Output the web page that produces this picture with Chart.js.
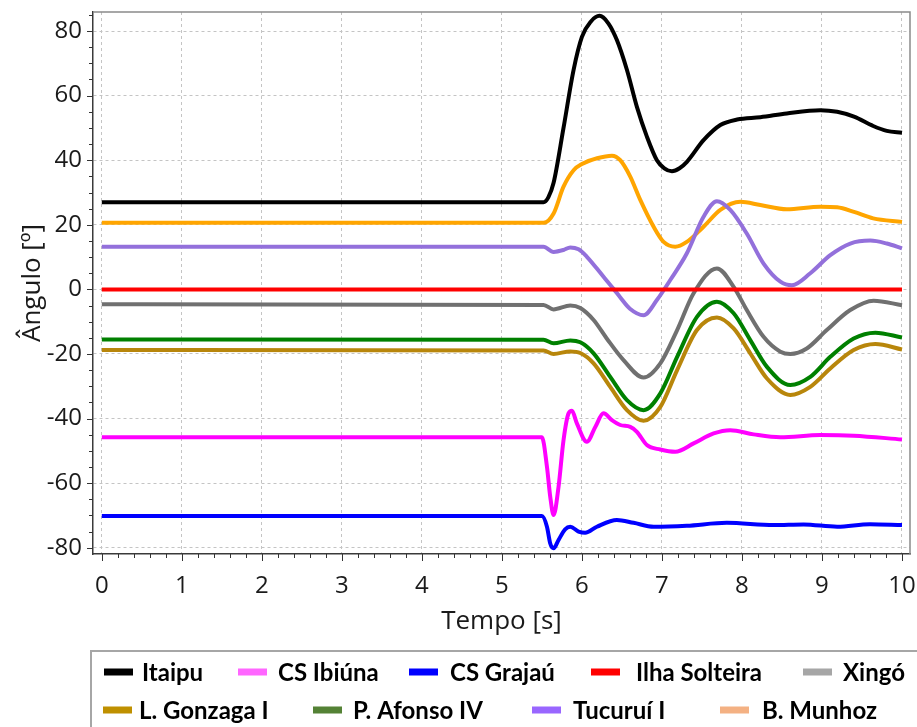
<!DOCTYPE html>
<html><head><meta charset="utf-8">
<script src="https://cdn.jsdelivr.net/npm/chart.js@4.4.0/dist/chart.umd.min.js"></script>
<style>html,body{margin:0;padding:0;background:#fff;}canvas{display:block;}</style>
</head><body>
<canvas id="c" width="917" height="727"></canvas>
<script>
// ---- data ----
const seriesNames = ['Itaipu', 'CS Ibiúna', 'CS Grajaú', 'Ilha Solteira', 'Xingó', 'L. Gonzaga I', 'P. Afonso IV', 'Tucuruí I', 'B. Munhoz'];
const xTickValues = [0, 1, 2, 3, 4, 5, 6, 7, 8, 9, 10];
const yTickValues = [-80, -60, -40, -20, 0, 20, 40, 60, 80];

const tItaipu = [0, 5.52, 5.58, 5.646, 5.77, 5.896, 6.0, 6.11, 6.22, 6.33, 6.437, 6.562, 6.687, 6.812, 6.937, 7.03, 7.125, 7.22, 7.312, 7.52, 7.73, 7.94, 8.23, 8.56, 8.98, 9.19, 9.40, 9.64, 9.81, 10.0];
const vItaipu = [27, 27, 28.5, 33, 50, 68, 78.2, 82.9, 84.7, 82.4, 77.2, 68, 56.5, 47.3, 40, 37.5, 36.6, 37.5, 39.5, 46.2, 50.9, 52.6, 53.3, 54.5, 55.5, 55.0, 53.5, 50.6, 49.1, 48.5];

const tIbiuna = [0, 5.50, 5.563, 5.604, 5.646, 5.708, 5.77, 5.833, 5.875, 5.937, 6.062, 6.167, 6.27, 6.375, 6.479, 6.604, 6.687, 6.812, 6.979, 7.166, 7.396, 7.646, 7.854, 8.146, 8.479, 8.979, 9.396, 10.0];
const vIbiuna = [-45.8, -45.8, -54.9, -64.2, -69.9, -61.1, -46.7, -38.4, -37.6, -41.5, -47.2, -42.6, -38.4, -40.5, -42.0, -42.6, -44.1, -48.2, -49.6, -50.3, -47.7, -44.6, -43.6, -44.9, -45.8, -45.1, -45.3, -46.5];

const tGrajau = [0, 5.50, 5.563, 5.604, 5.646, 5.708, 5.79, 5.854, 5.958, 6.04, 6.187, 6.437, 6.646, 6.896, 7.31, 7.81, 8.396, 8.77, 9.19, 9.60, 10.0];
const vGrajau = [-70.2, -70.2, -73.5, -78.7, -80.2, -77.6, -74.3, -73.5, -75.0, -75.4, -73.5, -71.4, -72.3, -73.5, -73.2, -72.3, -73.0, -72.8, -73.5, -72.7, -73.0];

const tIlha = [0, 10];
const vIlha = [0, 0];

const tXingo = [0, 5.52, 5.646, 5.854, 5.98, 6.146, 6.31, 6.52, 6.77, 6.98, 7.19, 7.396, 7.687, 7.896, 8.06, 8.27, 8.48, 8.604, 8.81, 9.06, 9.354, 9.646, 10.0];
const vXingo = [-4.6, -4.8, -6.2, -5.0, -5.8, -9.5, -15.2, -21.9, -27.3, -22.9, -12.6, -1.2, 6.5, 0.8, -6.4, -14.7, -19.3, -20.0, -18.3, -12.6, -6.4, -3.5, -4.9];

const tGonzaga = [0, 5.52, 5.646, 5.854, 5.98, 6.146, 6.354, 6.5625, 6.77, 6.98, 7.19, 7.4375, 7.687, 7.896, 8.104, 8.3125, 8.604, 8.854, 9.104, 9.396, 9.667, 10.0];
const vGonzaga = [-18.8, -18.9, -20.0, -19.2, -19.7, -22.9, -30.2, -37.4, -40.7, -36.4, -25.0, -12.6, -8.7, -12.1, -19.8, -27.6, -32.7, -30.2, -24.5, -18.8, -16.9, -18.6];

const tAfonso = [0, 5.52, 5.646, 5.854, 5.98, 6.146, 6.354, 6.5625, 6.77, 6.98, 7.19, 7.4375, 7.687, 7.896, 8.104, 8.3125, 8.604, 8.854, 9.104, 9.396, 9.667, 10.0];
const vAfonso = [-15.5, -15.6, -16.7, -15.8, -16.4, -19.8, -27.1, -34.3, -37.4, -32.2, -20.9, -8.5, -3.8, -7.4, -15.7, -24.0, -29.6, -27.1, -20.9, -15.2, -13.4, -14.9];

const tTucurui = [0, 5.52, 5.646, 5.77, 5.854, 5.958, 6.062, 6.27, 6.40, 6.48, 6.60, 6.77, 6.937, 7.104, 7.31, 7.52, 7.687, 7.854, 8.06, 8.27, 8.48, 8.625, 8.854, 9.104, 9.354, 9.604, 9.81, 10.0];
const vTucurui = [13.2, 13.2, 11.6, 12.2, 13.0, 12.4, 10.1, 3.9, 0.0, -2.5, -6.0, -8.0, -3.3, 2.9, 11.1, 22.5, 27.3, 24.6, 17.3, 8.0, 2.4, 1.3, 5.0, 10.6, 14.2, 15.1, 14.2, 12.7];

const tMunhoz = [0, 5.52, 5.646, 5.77, 5.896, 6.0, 6.19, 6.375, 6.479, 6.604, 6.729, 6.896, 7.021, 7.166, 7.31, 7.52, 7.73, 7.98, 8.23, 8.56, 8.98, 9.19, 9.40, 9.64, 10.0];
const vMunhoz = [20.6, 20.6, 23.5, 31.8, 36.9, 38.8, 40.6, 41.4, 40.0, 34.9, 27.7, 19.4, 14.7, 13.2, 14.7, 19.4, 24.6, 27.1, 26.1, 24.8, 25.6, 25.4, 24.0, 22.0, 20.9];

// ---- styles ----
const lineColors = ['#000000', '#ff00ff', '#0000ff', '#ff0000', '#707070', '#b8860b', '#008000', '#9370db', '#ffa500'];
const legendColors = ['#000000', '#ff66ff', '#0000ff', '#ff0000', '#a6a6a6', '#bf9000', '#548235', '#9966ff', '#f4b183'];
const legendLayout = {
  rows: [672, 710],
  items: [
    {row: 0, box: 104, text: 142}, {row: 0, box: 238, text: 278}, {row: 0, box: 409, text: 450},
    {row: 0, box: 591, text: 636}, {row: 0, box: 803, text: 843},
    {row: 1, box: 103, text: 139}, {row: 1, box: 313, text: 353}, {row: 1, box: 532, text: 573},
    {row: 1, box: 720, text: 762}
  ]
};

const seriesT = [tItaipu, tIbiuna, tGrajau, tIlha, tXingo, tGonzaga, tAfonso, tTucurui, tMunhoz];
const seriesV = [vItaipu, vIbiuna, vGrajau, vIlha, vXingo, vGonzaga, vAfonso, vTucurui, vMunhoz];

const datasets = seriesNames.map((name, i) => ({
  label: name,
  data: seriesT[i].map((t, k) => ({x: t, y: seriesV[i][k]})),
  borderColor: lineColors[i],
  backgroundColor: lineColors[i],
  borderWidth: 4,
  pointRadius: 0,
  fill: false,
  cubicInterpolationMode: 'monotone'
}));

const framePlugin = {
  id: 'frame',
  afterDraw(chart) {
    const {ctx, chartArea: a, scales: {x, y}} = chart;
    ctx.save();
    // top / right frame
    ctx.strokeStyle = '#8a8a8a';
    ctx.lineWidth = 1.5;
    ctx.beginPath();
    ctx.moveTo(a.left, a.top); ctx.lineTo(a.right, a.top); ctx.lineTo(a.right, a.bottom);
    ctx.stroke();
    // tick marks (major + minor)
    ctx.strokeStyle = '#333333';
    ctx.lineWidth = 1;
    for (let k = 0; k <= 50; k++) {
      const t = k * 0.2;
      const px = Math.round(x.getPixelForValue(t)) + 0.5;
      const len = (k % 5 === 0) ? 7 : 4;
      ctx.beginPath(); ctx.moveTo(px, a.bottom); ctx.lineTo(px, a.bottom + len); ctx.stroke();
    }
    for (let k = -16; k <= 17; k++) {
      const v = k * 5;
      if (v > y.max || v < y.min) continue;
      const py = Math.round(y.getPixelForValue(v)) + 0.5;
      const len = (v % 20 === 0) ? 6 : 4;
      ctx.beginPath(); ctx.moveTo(a.left - len, py); ctx.lineTo(a.left, py); ctx.stroke();
    }
    // legend box
    ctx.strokeStyle = '#a6a6a6';
    ctx.lineWidth = 2;
    ctx.beginPath();
    ctx.moveTo(91, 730); ctx.lineTo(91, 651); ctx.lineTo(920, 651);
    ctx.stroke();
    ctx.font = 'bold 24px Lato, "Liberation Sans Narrow", sans-serif';
    ctx.textBaseline = 'middle';
    ctx.textAlign = 'left';
    legendLayout.items.forEach((it, i) => {
      const yRow = legendLayout.rows[it.row];
      ctx.fillStyle = legendColors[i];
      ctx.fillRect(it.box, yRow - 3.5, 29, 7);
      ctx.fillStyle = '#000000';
      ctx.fillText(seriesNames[i], it.text, yRow + 1);
    });
    ctx.restore();
  }
};

const gridOpts = {color: '#c4c4c4', lineWidth: 1, drawTicks: false};
const borderOpts = {display: true, color: '#3a3a3a', width: 1.5, dash: [3, 3]};
const tickFont = {family: '"Open Sans", sans-serif', size: 24};
const titleFont = {family: '"Open Sans", sans-serif', size: 26};

new Chart(document.getElementById('c'), {
  type: 'line',
  data: {datasets},
  options: {
    responsive: false,
    animation: false,
    layout: {padding: {top: 12, right: 7, bottom: 73, left: 0}},
    plugins: {legend: {display: false}, tooltip: {enabled: false}},
    scales: {
      x: {
        type: 'linear', min: -0.11, max: 10.1,
        afterBuildTicks: s => { s.ticks = xTickValues.map(v => ({value: v})); },
        afterFit: s => { s.height = 100; s.paddingLeft = 0; s.paddingRight = 0; },
        grid: gridOpts, border: borderOpts,
        ticks: {padding: 18, color: '#1a1a1a', font: tickFont, maxRotation: 0, autoSkip: false, callback: v => String(v)},
        title: {display: true, text: 'Tempo [s]', color: '#1a1a1a', font: titleFont, padding: {top: 0, bottom: 17}}
      },
      y: {
        type: 'linear', min: -81.95, max: 85.9,
        afterBuildTicks: s => { s.ticks = yTickValues.map(v => ({value: v})); },
        afterFit: s => { s.width = 93; s.paddingTop = 0; s.paddingBottom = 0; },
        grid: gridOpts, border: borderOpts,
        ticks: {padding: 11, color: '#1a1a1a', font: tickFont, autoSkip: false, callback: v => String(v)},
        title: {display: true, text: 'Ângulo [º]', color: '#1a1a1a', font: titleFont, padding: {top: 17, bottom: 0}}
      }
    }
  },
  plugins: [framePlugin]
});
</script>
</body></html>
